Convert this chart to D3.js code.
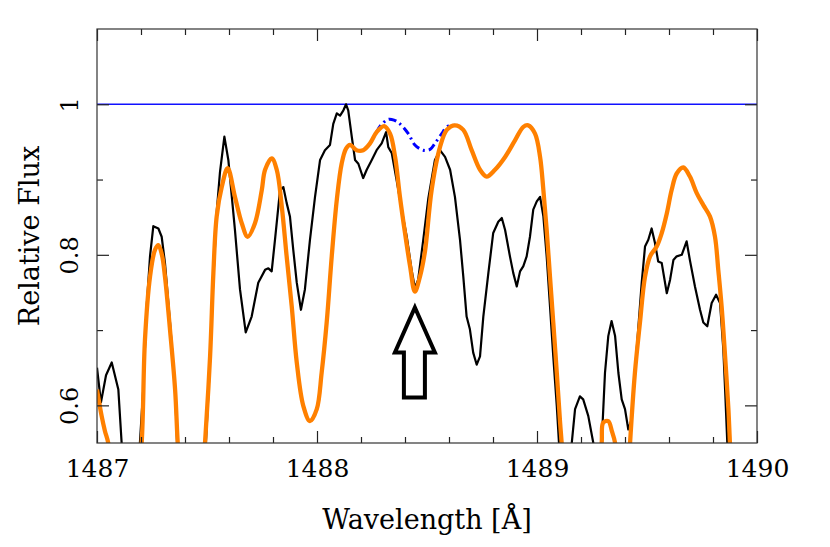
<!DOCTYPE html>
<html>
<head>
<meta charset="utf-8">
<script src="https://cdn.jsdelivr.net/npm/d3@7"></script>
<style>
  body { margin: 0; background: #fff; }
  text { font-family: "DejaVu Serif", serif; fill: #000; }
</style>
</head>
<body>
<div id="chart"></div>
<script>
// Observed spectrum (black)
var obsWave = [1487.000,1487.018,1487.041,1487.067,1487.097,1487.112,1487.125,1487.185,1487.195,1487.210,
  1487.226,1487.241,1487.256,1487.279,1487.294,1487.309,1487.332,1487.355,1487.364,1487.375,
  1487.485,1487.495,1487.514,1487.529,1487.545,1487.559,1487.579,1487.597,1487.627,1487.650,
  1487.676,1487.703,1487.733,1487.764,1487.779,1487.794,1487.809,1487.832,1487.847,1487.862,
  1487.877,1487.892,1487.908,1487.927,1487.945,1487.968,1487.991,1488.014,1488.036,1488.059,
  1488.074,1488.090,1488.105,1488.120,1488.132,1488.142,1488.158,1488.173,1488.188,1488.210,
  1488.226,1488.249,1488.271,1488.294,1488.314,1488.324,1488.340,1488.362,1488.385,1488.408,
  1488.430,1488.445,1488.460,1488.483,1488.506,1488.536,1488.559,1488.582,1488.605,1488.627,
  1488.650,1488.665,1488.680,1488.695,1488.710,1488.726,1488.741,1488.756,1488.779,1488.801,
  1488.824,1488.840,1488.855,1488.877,1488.892,1488.908,1488.923,1488.938,1488.953,1488.968,
  1488.983,1488.999,1489.014,1489.029,1489.044,1489.059,1489.074,1489.090,1489.100,1489.110,
  1489.150,1489.158,1489.173,1489.195,1489.210,1489.233,1489.256,1489.265,1489.285,1489.294,
  1489.309,1489.324,1489.339,1489.355,1489.370,1489.385,1489.400,1489.415,1489.430,1489.445,
  1489.460,1489.476,1489.491,1489.506,1489.521,1489.536,1489.551,1489.567,1489.590,1489.605,
  1489.620,1489.635,1489.658,1489.680,1489.695,1489.718,1489.741,1489.756,1489.774,1489.794,
  1489.814,1489.832,1489.847,1489.855,1489.865,1489.875];
var obsFlux = [0.650,0.604,0.640,0.657,0.621,0.550,0.500,0.500,0.550,0.621,
  0.732,0.798,0.838,0.835,0.824,0.789,0.710,0.621,0.550,0.500,
  0.500,0.550,0.660,0.770,0.860,0.910,0.957,0.926,0.833,0.754,
  0.697,0.718,0.763,0.780,0.782,0.778,0.820,0.886,0.890,0.869,
  0.851,0.807,0.763,0.727,0.754,0.820,0.877,0.926,0.939,0.946,
  0.974,0.988,0.985,0.992,1.000,0.992,0.957,0.926,0.921,0.902,
  0.913,0.926,0.939,0.948,0.963,0.943,0.935,0.899,0.860,0.824,
  0.780,0.756,0.767,0.820,0.875,0.926,0.939,0.930,0.913,0.877,
  0.820,0.771,0.718,0.701,0.670,0.654,0.665,0.718,0.776,0.829,
  0.844,0.849,0.833,0.798,0.776,0.758,0.778,0.785,0.798,0.824,
  0.860,0.871,0.877,0.851,0.798,0.732,0.665,0.599,0.550,0.500,
  0.500,0.550,0.595,0.612,0.608,0.586,0.550,0.500,0.500,0.550,
  0.643,0.692,0.712,0.692,0.643,0.608,0.595,0.568,0.581,0.643,
  0.701,0.763,0.811,0.820,0.835,0.816,0.791,0.789,0.749,0.767,
  0.793,0.798,0.800,0.818,0.793,0.758,0.727,0.710,0.705,0.736,
  0.747,0.736,0.674,0.621,0.550,0.500];

// Model with the line (orange)
var modelWave = [1487.000,1487.021,1487.036,1487.051,1487.075,1487.180,1487.203,1487.218,1487.241,1487.264,
  1487.279,1487.295,1487.309,1487.332,1487.355,1487.367,1487.385,1487.475,1487.491,1487.514,
  1487.529,1487.544,1487.567,1487.594,1487.627,1487.658,1487.685,1487.718,1487.749,1487.764,
  1487.794,1487.817,1487.840,1487.862,1487.885,1487.908,1487.938,1487.968,1487.999,1488.021,
  1488.044,1488.067,1488.090,1488.112,1488.132,1488.150,1488.180,1488.210,1488.241,1488.271,
  1488.305,1488.332,1488.355,1488.377,1488.400,1488.423,1488.445,1488.468,1488.491,1488.521,
  1488.559,1488.590,1488.627,1488.665,1488.703,1488.741,1488.771,1488.809,1488.855,1488.900,
  1488.938,1488.960,1488.991,1489.014,1489.029,1489.044,1489.059,1489.074,1489.090,1489.105,
  1489.112,1489.125,1489.270,1489.294,1489.301,1489.324,1489.341,1489.355,1489.370,1489.410,
  1489.423,1489.445,1489.468,1489.491,1489.514,1489.544,1489.567,1489.590,1489.612,1489.635,
  1489.665,1489.695,1489.726,1489.756,1489.786,1489.809,1489.824,1489.839,1489.855,1489.870,
  1489.877,1489.890];
var modelFlux = [0.621,0.586,0.566,0.550,0.480,0.480,0.550,0.687,0.771,0.807,
  0.813,0.800,0.771,0.700,0.621,0.550,0.480,0.480,0.550,0.665,
  0.776,0.851,0.890,0.915,0.877,0.842,0.824,0.842,0.886,0.913,
  0.928,0.913,0.864,0.798,0.732,0.657,0.599,0.579,0.595,0.643,
  0.710,0.798,0.873,0.921,0.941,0.946,0.939,0.939,0.948,0.963,
  0.971,0.961,0.930,0.877,0.829,0.785,0.751,0.771,0.805,0.886,
  0.943,0.966,0.972,0.966,0.939,0.913,0.904,0.913,0.930,0.952,
  0.970,0.972,0.961,0.930,0.886,0.833,0.771,0.710,0.643,0.577,
  0.550,0.480,0.480,0.550,0.577,0.579,0.565,0.550,0.480,0.480,
  0.550,0.643,0.710,0.771,0.798,0.811,0.829,0.855,0.886,0.908,
  0.916,0.904,0.882,0.866,0.851,0.824,0.780,0.732,0.665,0.595,
  0.550,0.480];

// Model without the marked line (blue dash-dot), where it departs from the orange one
var noLineWave = [1488.271,1488.290,1488.324,1488.350,1488.377,1488.415,1488.445,1488.483,1488.514,1488.536,1488.567,1488.590,1488.627];
var noLineFlux = [0.963,0.972,0.980,0.979,0.974,0.961,0.946,0.939,0.940,0.948,0.961,0.970,0.972];

var continuum = 1.0;
var xMajor = [1487, 1488, 1489, 1490];
var xMinor = [1487.2,1487.4,1487.6,1487.8,1488.2,1488.4,1488.6,1488.8,1489.2,1489.4,1489.6,1489.8];
var yMajor = [0.6, 0.8, 1];
var yMinor = [0.7, 0.9];
var arrowWave = 1488.445, arrowFlux = 0.730;

var W = 830, H = 547;
var margin = { top: 29, right: 73, bottom: 104, left: 97 },
    width = W - margin.left - margin.right,
    height = H - margin.top - margin.bottom;

var svg = d3.select("#chart").append("svg")
    .attr("width", W).attr("height", H)
  .append("g")
    .attr("transform", "translate(" + margin.left + "," + margin.top + ")");

var x = d3.scaleLinear().domain([1487, 1490]).range([0, width]);
var y = d3.scaleLinear().domain([0.55, 1.1]).range([height, 0]);

svg.append("clipPath").attr("id", "clip")
  .append("rect").attr("width", width).attr("height", height);

var plot = svg.append("g").attr("clip-path", "url(#clip)");

function toPoints(ws, fs) { return ws.map(function(w, i) { return [w, fs[i]]; }); }

var lineRough = d3.line().x(function(d) { return x(d[0]); }).y(function(d) { return y(d[1]); });
var lineSmooth = d3.line().x(function(d) { return x(d[0]); }).y(function(d) { return y(d[1]); })
    .curve(d3.curveCatmullRom.alpha(0.5));

// continuum level
plot.append("line")
    .attr("x1", x(1487)).attr("x2", x(1490))
    .attr("y1", y(continuum)).attr("y2", y(continuum))
    .attr("stroke", "#1010ff").attr("stroke-width", 1.3);

plot.append("path")
    .datum(toPoints(obsWave, obsFlux))
    .attr("d", lineRough)
    .attr("fill", "none").attr("stroke", "#000").attr("stroke-width", 2.2)
    .attr("stroke-linejoin", "round");

plot.append("path")
    .datum(toPoints(noLineWave, noLineFlux))
    .attr("d", lineSmooth)
    .attr("fill", "none").attr("stroke", "#0000ff").attr("stroke-width", 3)
    .attr("stroke-dasharray", "8,4,2,4");

plot.append("path")
    .datum(toPoints(modelWave, modelFlux))
    .attr("d", lineSmooth)
    .attr("fill", "none").attr("stroke", "#ff8000").attr("stroke-width", 4.3)
    .attr("stroke-linejoin", "round");

// arrow marking the feature
var ax = x(arrowWave), ay = y(arrowFlux);
var arrowShape = [[0,0],[20,45],[10,45],[10,90],[-11,90],[-11,45],[-20,45]];
svg.append("path")
    .attr("d", "M" + arrowShape.map(function(p) { return (ax + p[0]) + "," + (ay + p[1]); }).join("L") + "Z")
    .attr("fill", "#fff").attr("stroke", "#000").attr("stroke-width", 4)
    .attr("stroke-linejoin", "miter");

// axes: ticks inward on all four sides
function addAxis(axisFn, values, size, transform, scale) {
  var g = svg.append("g").attr("transform", transform)
      .call(axisFn(scale).tickValues(values).tickSize(size).tickFormat(""));
  g.select(".domain").remove();
  g.selectAll("line").attr("stroke", "#222").attr("stroke-width", 1.2);
  return g;
}

var xAxis = svg.append("g").attr("transform", "translate(0," + height + ")")
    .call(d3.axisBottom(x).tickValues(xMajor).tickSize(-12).tickFormat(d3.format("d")));
xAxis.select(".domain").remove();
xAxis.selectAll("line").attr("stroke", "#222").attr("stroke-width", 1.2);
xAxis.selectAll("text").attr("y", 34).attr("dy", null)
    .style("font-size", "25px").style("font-family", "DejaVu Serif");

addAxis(d3.axisBottom, xMinor, -6, "translate(0," + height + ")", x);
addAxis(d3.axisTop, xMajor, -12, "translate(0,0)", x);
addAxis(d3.axisTop, xMinor, -6, "translate(0,0)", x);

var yAxis = svg.append("g")
    .call(d3.axisLeft(y).tickValues(yMajor).tickSize(-12).tickFormat(function(d) { return d === 1 ? "1" : d3.format(".1f")(d); }));
yAxis.select(".domain").remove();
yAxis.selectAll("line").attr("stroke", "#222").attr("stroke-width", 1.2);
yAxis.selectAll("text")
    .attr("x", null).attr("dy", null)
    .attr("text-anchor", "middle")
    .attr("transform", "translate(-19,0) rotate(-90)")
    .style("font-size", "24px").style("font-family", "DejaVu Serif");

addAxis(d3.axisLeft, yMinor, -6, "translate(0,0)", y);
addAxis(d3.axisRight, yMajor, -12, "translate(" + width + ",0)", y);
addAxis(d3.axisRight, yMinor, -6, "translate(" + width + ",0)", y);

// frame
svg.append("rect")
    .attr("width", width).attr("height", height)
    .attr("fill", "none").attr("stroke", "#333").attr("stroke-width", 1.2);

// axis titles
svg.append("text")
    .attr("x", width / 2).attr("y", height + 86)
    .attr("text-anchor", "middle")
    .style("font-size", "27px")
    .text("Wavelength [Å]");

svg.append("text")
    .attr("transform", "translate(-58," + (height / 2) + ") rotate(-90)")
    .attr("text-anchor", "middle")
    .style("font-size", "27px")
    .text("Relative Flux");
</script>
</body>
</html>
